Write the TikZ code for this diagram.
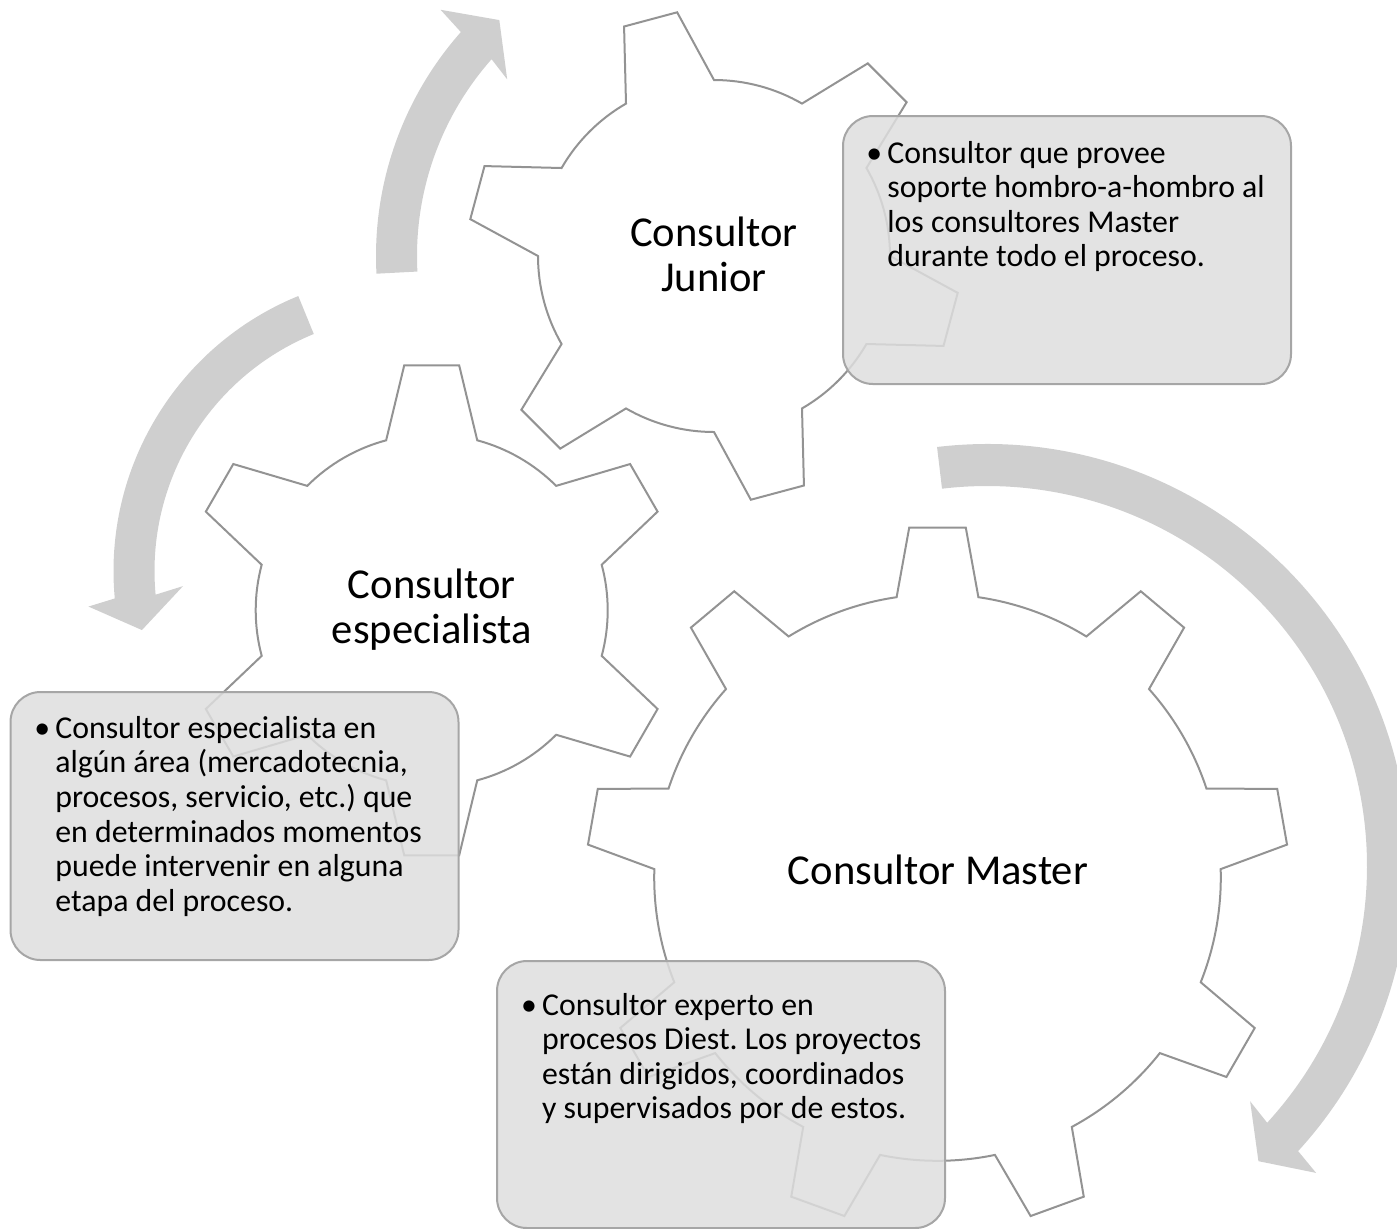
\documentclass[tikz,border=0pt]{standalone}
\usepackage{fontspec}
\setmainfont{Carlito}
\usetikzlibrary{calc}
\frenchspacing
\definecolor{gearline}{HTML}{939393}
\definecolor{arrowfill}{HTML}{CFCFCF}
\definecolor{boxfill}{HTML}{DEDEDE}
\definecolor{boxline}{HTML}{A6A6A6}
\newcommand{\boxfont}{\fontsize{15.9pt}{17.3pt}\selectfont\frenchspacing}
\newcommand{\gearfont}{\fontsize{21.3pt}{22.85pt}\selectfont}
\newcommand{\bul}{\leavevmode\llap{\makebox[10.5pt][l]{•}}}
% #1 centre, #2 teeth, #3 phase, #4 tip radius, #5 tip half angle, #6 root radius, #7 root half angle
\newcommand{\drawgear}[7]{%
  \draw[gearstyle] ($(#1)+({#3-#7}:#6)$)
  \foreach \k in {1,...,#2}{
    -- ($(#1)+({#3+(\k-1)*360/#2-#5}:#4)$)
    -- ($(#1)+({#3+(\k-1)*360/#2+#5}:#4)$)
    -- ($(#1)+({#3+(\k-1)*360/#2+#7}:#6)$)
    arc[start angle={#3+(\k-1)*360/#2+#7}, end angle={#3+\k*360/#2-#7}, radius=#6]
  } -- cycle;}
\begin{document}
\begin{tikzpicture}[x=0.5pt,y=-0.5pt,
  gearstyle/.style={draw=gearline, line width=1pt, line join=miter},
  arrowstyle/.style={fill=arrowfill, draw=none},
  boxstyle/.style={draw=boxline, line width=1pt, fill=boxfill, fill opacity=0.85,
    rounded corners=15pt, minimum width=224pt, minimum height=134pt, inner sep=0pt,
    anchor=north west},
  boxtext/.style={anchor=base west, inner sep=0pt},
  geartext/.style={anchor=base, inner sep=0pt}]
\useasboundingbox (0,0) rectangle (1397,1228);

% gear centres
\coordinate (gJ) at (714,256);
\coordinate (gE) at (431.7,610.3);
\coordinate (gM) at (937.5,877.5);
% arrow centres
\coordinate (cA) at (714,256);
\coordinate (cB) at (410.5,571);
\coordinate (cC) at (987,866);

% gears
\drawgear{gE}{6}{30}{246.5}{6.4}{176}{15}
\drawgear{gJ}{6}{15}{246.5}{6.4}{176}{15}
\drawgear{gM}{9}{30}{351.1}{4.62}{283.3}{8.3}

% circular arrows
\fill[arrowstyle] ($(cA)+(177:338)$) arc[start angle=177, end angle=221.5, radius=338]
  -- ($(cA)+(222:368)$) -- ($(cA)+(227.7:319)$) -- ($(cA)+(220.5:272)$)
  -- ($(cA)+(221.5:297)$) arc[start angle=221.5, end angle=177, radius=297] -- cycle;
\fill[arrowstyle] ($(cB)+(247.8:297)$) arc[start angle=247.8, end angle=174.7, radius=297]
  -- ($(cB)+(173.7:324)$) -- ($(cB)+(167.6:275)$) -- ($(cB)+(176.2:228)$)
  -- ($(cB)+(174.7:256)$) arc[start angle=174.7, end angle=247.8, radius=256] -- cycle;
\fill[arrowstyle] ($(cC)+(-96.8:422)$) arc[start angle=-96.8, end angle=42.5, radius=422]
  -- ($(cC)+(43:450)$) -- ($(cC)+(47.4:401)$) -- ($(cC)+(41.8:353)$)
  -- ($(cC)+(42.5:380)$) arc[start angle=42.5, end angle=-96.8, radius=380] -- cycle;

% text boxes
\node[boxstyle] (bJ) at (842,115) {};
\node[boxstyle] (bE) at (9.5,691) {};
\node[boxstyle, minimum height=133.5pt] (bM) at (496,960) {};

\node[boxtext] (tJ) at (887,163) {\parbox[t]{210pt}{\boxfont\raggedright
  \bul Consultor que provee\\
  soporte hombro-a-hombro al\\
  los consultores Master\\
  durante todo el proceso.}};
\node[boxtext] (tE) at (55,738.3) {\parbox[t]{210pt}{\boxfont\raggedright
  \bul Consultor especialista en\\
  algún área (mercadotecnia,\\
  procesos, servicio, etc.) que\\
  en determinados momentos\\
  puede intervenir en alguna\\
  etapa del proceso.}};
\node[boxtext] (tM) at (541.7,1015) {\parbox[t]{210pt}{\boxfont\raggedright
  \bul Consultor experto en\\
  procesos Diest. Los proyectos\\
  están dirigidos, coordinados\\
  y supervisados por de estos.}};

% gear labels
\node[geartext] (lJ) at (714,246) {\parbox[t]{150pt}{\gearfont\centering Consultor\\Junior}};
\node[geartext] (lE) at (431.7,598) {\parbox[t]{150pt}{\gearfont\centering Consultor\\especialista}};
\node[geartext] (lM) at (938,884) {\gearfont Consultor Master};
\end{tikzpicture}
\end{document}
